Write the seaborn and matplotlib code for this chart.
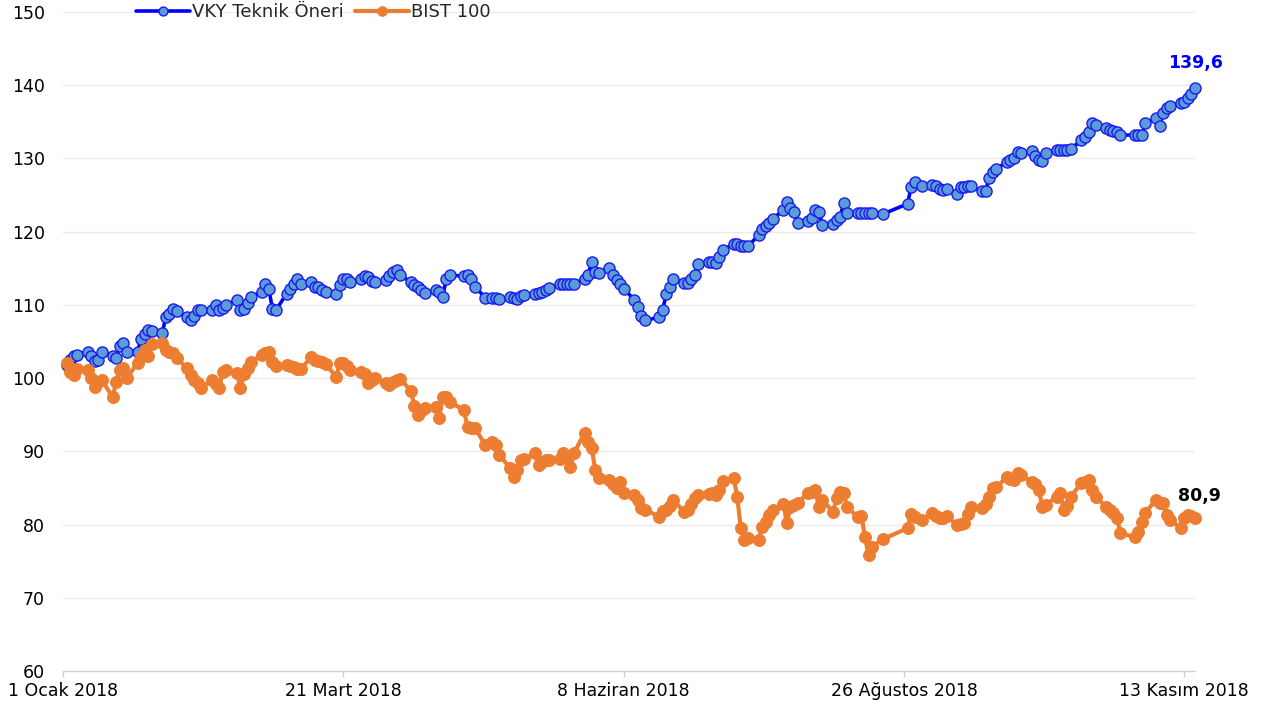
import pandas as pd
import numpy as np
import matplotlib
matplotlib.use("Agg")
import matplotlib.pyplot as plt
import seaborn as sns

# trading days 2 Jan - 16 Nov 2018 (BIST holidays removed)
start_date = "2018-01-02"
end_date = "2018-11-16"
holidays = ["2018-04-23", "2018-05-01", "2018-06-15",
            "2018-08-21", "2018-08-22", "2018-08-23", "2018-08-24",
            "2018-08-30", "2018-10-29"]

vky = [
    # Jan
    101.8, 102.5, 103.0, 103.2, 103.6, 103.0, 102.4, 102.5, 103.6, 103.0, 102.7,
    104.4, 104.8, 103.6, 103.6, 105.4, 106.0, 106.6, 106.5, 106.2, 108.4, 108.8,
    # Feb
    109.5, 109.2, 108.3, 107.9, 108.5, 109.3, 109.3, 109.3, 110.0, 109.3,
    109.6, 110.0, 110.7, 109.3, 109.5, 110.3, 111.1, 111.8, 112.8, 112.2,
    # Mar
    109.5, 109.3, 111.5, 112.2, 112.8, 113.5, 112.9, 113.1, 112.5, 112.4, 112.0,
    111.8, 111.5, 112.7, 113.5, 113.6, 113.1, 113.6, 114.0, 113.8, 113.2, 113.1,
    # Apr
    113.4, 114.0, 114.5, 114.8, 114.1, 113.1, 112.7, 112.4, 112.0, 111.6,
    112.0, 111.8, 111.1, 113.5, 114.1, 113.9, 114.1, 113.5, 112.5, 111.0,
    # May
    110.9, 111.0, 110.8, 111.1, 110.9, 110.8, 111.2, 111.4, 111.5, 111.6, 111.8,
    112.0, 112.3, 112.9, 112.9, 112.9, 112.9, 112.9, 113.6, 114.1, 115.9, 114.5,
    # Jun
    114.4, 115.0, 114.1, 113.4, 112.8, 112.2, 110.7, 109.7, 108.5, 107.9,
    108.3, 109.3, 111.5, 112.5, 113.5, 113.0, 113.0, 113.6, 114.1, 115.6,
    # Jul
    115.9, 115.8, 115.7, 116.5, 117.5, 118.3, 118.3, 118.1, 118.0, 118.0, 119.5,
    120.3, 120.8, 121.2, 121.7, 123.0, 124.0, 123.3, 122.7, 121.2, 121.4, 121.8,
    # Aug
    122.9, 122.7, 120.9, 121.0, 121.6, 122.0, 123.9, 122.5, 122.5, 122.5,
    122.5, 122.5, 122.5, 122.4, 123.8, 126.1, 126.8, 126.2,
    # Sep
    126.4, 126.3, 125.8, 125.7, 125.8, 125.1, 126.1, 126.1, 126.2, 126.2,
    125.5, 125.6, 127.3, 128.1, 128.6, 129.5, 129.8, 130.0, 130.9, 130.7,
    # Oct
    131.0, 130.3, 129.8, 129.6, 130.8, 131.2, 131.2, 131.2, 131.2, 131.3, 132.5,
    132.9, 133.6, 134.8, 134.6, 134.2, 133.9, 133.8, 133.6, 133.2, 133.2, 133.2,
    # Nov
    133.2, 134.8, 135.5, 134.4, 136.2, 136.9, 137.2, 137.6, 137.7, 138.2, 138.8, 139.6,
]

bist = [
    # Jan
    102.0, 100.8, 100.4, 101.3, 101.1, 100.0, 98.8, 99.5, 99.7, 97.4, 99.5,
    101.1, 101.4, 100.0, 102.1, 102.9, 103.8, 103.0, 104.6, 104.8, 103.8, 103.6,
    # Feb
    103.4, 102.7, 101.4, 100.4, 99.8, 99.3, 98.7, 99.7, 99.2, 98.6,
    100.8, 101.1, 100.7, 98.6, 100.5, 101.4, 102.2, 103.2, 103.4, 103.5,
    # Mar
    102.2, 101.6, 101.8, 101.6, 101.5, 101.2, 101.2, 102.9, 102.5, 102.3, 102.2,
    101.9, 100.2, 102.0, 102.0, 101.7, 101.1, 100.8, 100.5, 99.3, 99.8, 100.0,
    # Apr
    99.3, 99.0, 99.5, 99.8, 99.9, 98.3, 96.2, 95.0, 95.5, 95.9,
    96.0, 94.6, 97.4, 97.4, 96.8, 95.6, 93.3, 93.2, 93.2, 90.9,
    # May
    91.3, 90.8, 89.5, 87.7, 86.5, 87.5, 88.8, 88.9, 89.8, 88.1, 88.6,
    88.8, 88.8, 89.0, 89.8, 89.2, 87.9, 89.8, 92.5, 91.3, 90.4, 87.4,
    # Jun
    86.4, 86.1, 85.5, 85.0, 85.8, 84.3, 84.0, 83.3, 82.3, 82.0,
    81.1, 81.8, 82.0, 82.5, 83.4, 81.7, 82.0, 82.8, 83.6, 84.0,
    # Jul
    84.2, 84.3, 84.0, 84.7, 86.0, 86.4, 83.8, 79.5, 77.9, 78.2, 77.9,
    79.6, 80.4, 81.3, 82.0, 82.8, 80.2, 82.4, 82.7, 83.0, 84.3, 84.5,
    # Aug
    84.7, 82.4, 83.4, 81.7, 83.6, 84.4, 84.3, 82.4, 81.0, 81.2,
    78.3, 75.8, 77.0, 78.0, 79.5, 81.5, 81.0, 80.6,
    # Sep
    81.6, 81.2, 80.9, 80.9, 81.2, 79.9, 80.1, 80.2, 81.5, 82.4,
    82.3, 82.8, 83.8, 85.0, 85.1, 86.5, 86.2, 86.1, 87.0, 86.8,
    # Oct
    85.8, 85.5, 84.7, 82.4, 82.7, 83.8, 84.3, 82.0, 82.5, 83.8, 85.7,
    85.8, 86.1, 84.7, 83.8, 82.4, 82.0, 81.6, 80.9, 78.8, 78.3, 79.0,
    # Nov
    80.4, 81.6, 83.4, 82.9, 82.9, 81.3, 80.6, 79.5, 80.9, 81.3, 81.2, 80.9,
]

tick_dates = ["2018-01-01", "2018-03-21", "2018-06-08", "2018-08-26", "2018-11-13"]
tick_labels = ["1 Ocak 2018", "21 Mart 2018", "8 Haziran 2018",
               "26 Ağustos 2018", "13 Kasım 2018"]

dates = pd.bdate_range(start_date, end_date, freq="C", holidays=holidays)
assert len(dates) == len(vky) == len(bist), (len(dates), len(vky), len(bist))

df = pd.DataFrame({"date": dates, "vky": vky, "bist": bist})

sns.set_style("white")
plt.rcParams["font.family"] = ["DejaVu Sans"]

fig = plt.figure(figsize=(12.66, 7.16), dpi=100)
ax = fig.add_axes([63 / 1266, 1 - 671 / 716, (1195 - 63) / 1266, 659 / 716])

sns.lineplot(data=df, x="date", y="vky", ax=ax, color="#0000FF", linewidth=2.6,
             marker="o", markersize=8, markerfacecolor="#5B9BD8",
             markeredgecolor="#1A1AF0", markeredgewidth=1.0,
             label="VKY Teknik Öneri", clip_on=False, zorder=3)
sns.lineplot(data=df, x="date", y="bist", ax=ax, color="#ED7D31", linewidth=3.0,
             marker="o", markersize=8.5, markerfacecolor="#ED7D31",
             markeredgecolor="#ED7D31", markeredgewidth=0.8,
             label="BIST 100", clip_on=False, zorder=4)

ax.set_ylim(60, 150)
ax.set_yticks(np.arange(60, 151, 10))
ax.set_xlim(pd.Timestamp("2018-01-01"), pd.Timestamp("2018-11-16"))
ax.set_xticks(pd.to_datetime(tick_dates))
ax.set_xticklabels(tick_labels)
ax.set_xlabel("")
ax.set_ylabel("")

ax.grid(axis="y", color="#EBEBEB", linewidth=1.0)
ax.grid(axis="x", visible=False)
for side in ["top", "right", "left"]:
    ax.spines[side].set_visible(False)
ax.spines["bottom"].set_color("#D0D0D0")
ax.spines["bottom"].set_linewidth(1.0)
ax.tick_params(axis="x", bottom=True, length=4, width=1, color="#D0D0D0",
               labelsize=12.5, pad=4, labelcolor="black")
ax.tick_params(axis="y", left=False, length=0, labelsize=12.5, pad=13,
               labelcolor="black")

# end labels
ax.annotate(f"{vky[-1]:.1f}".replace(".", ","), xy=(dates[-1], vky[-1]),
            xytext=(0, 18), textcoords="offset points", ha="center", va="center",
            fontsize=12.5, fontweight="bold", color="#0000FF",
            annotation_clip=False)
ax.annotate(f"{bist[-1]:.1f}".replace(".", ","), xy=(dates[-1], bist[-1]),
            xytext=(3, 16), textcoords="offset points", ha="center", va="center",
            fontsize=12.5, fontweight="bold", color="black",
            annotation_clip=False)

ax.legend(loc="center left", bbox_to_anchor=(136 / 1266, 1 - 12 / 716),
          bbox_transform=fig.transFigure, ncol=2, frameon=False,
          handlelength=3.0, handletextpad=0.1, columnspacing=0.6,
          markerscale=0.8, borderaxespad=0, borderpad=0, fontsize=13)

fig.savefig("out.png", dpi=100)
